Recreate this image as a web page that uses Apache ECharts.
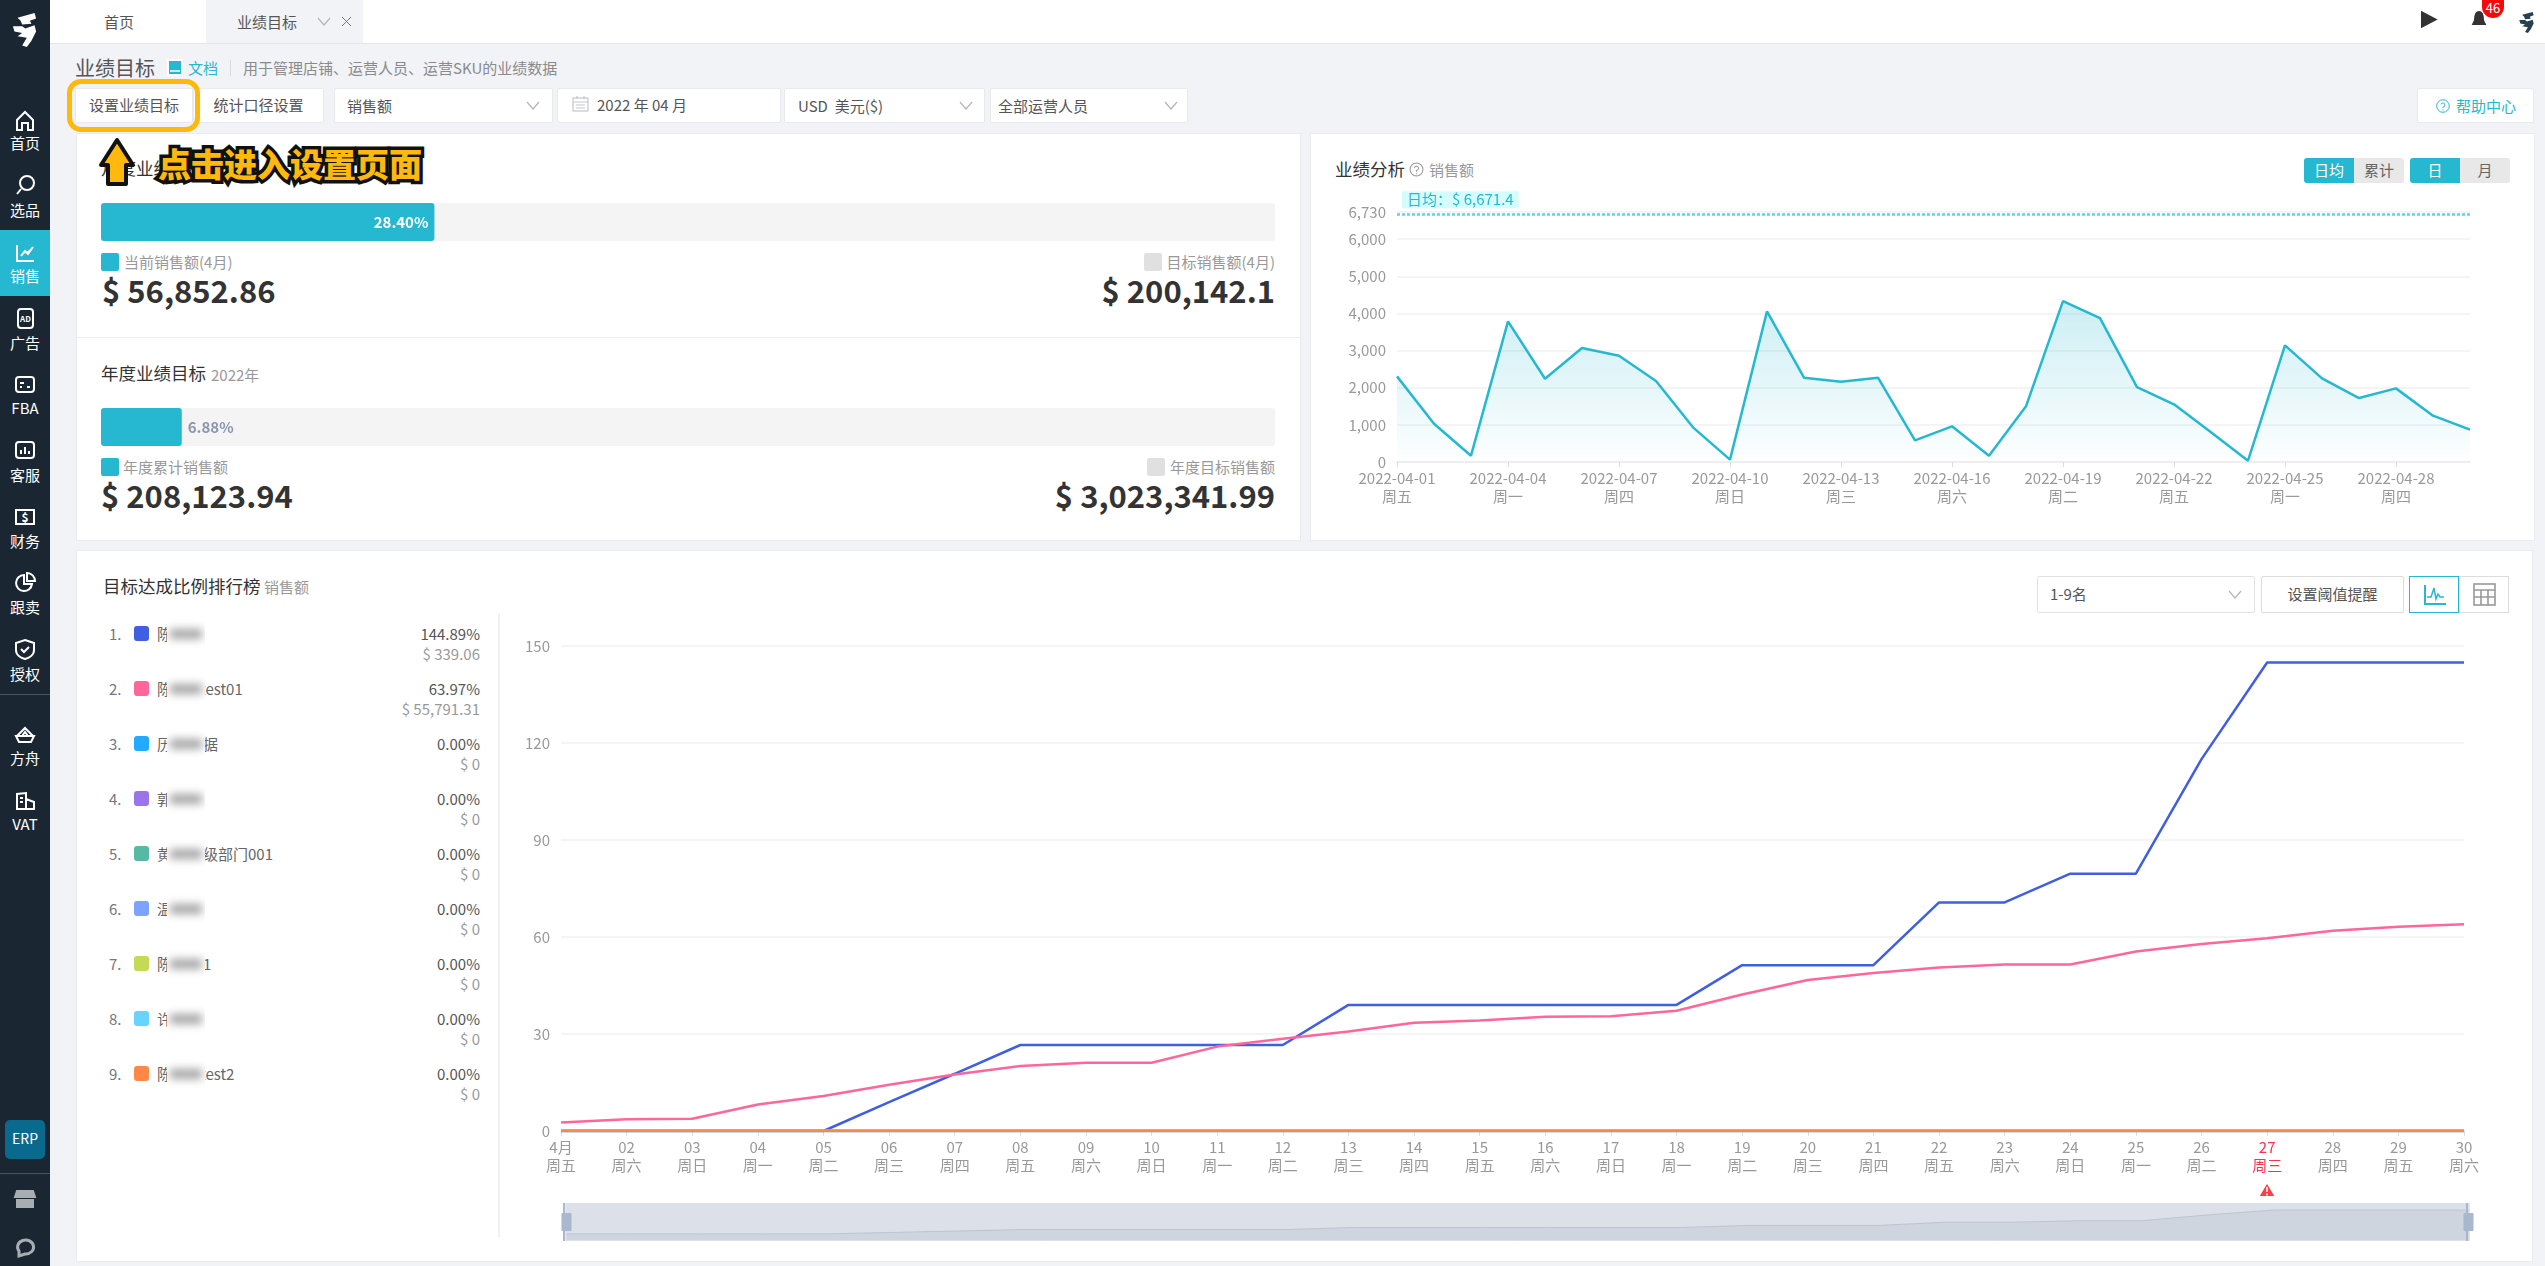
<!DOCTYPE html>
<html>
<head>
<meta charset="utf-8">
<title>业绩目标</title>
<script src="https://cdn.jsdelivr.net/npm/echarts@6/dist/echarts.min.js"></script>
<style>
html, body { margin: 0; padding: 0; width: 2545px; height: 1266px; overflow: hidden; background: #f1f3f7; font-family: "Noto Sans CJK SC", "Noto Sans", sans-serif; }
#app { position: absolute; left: 0; top: 0; width: 2545px; height: 1266px; }
.t { position: absolute; height: 30px; line-height: 30px; white-space: nowrap; }
.b { position: absolute; box-sizing: border-box; }
.c { position: absolute; }
svg { position: absolute; overflow: visible; }
</style>
</head>
<body>
<div id="app"></div>
<script>
// 月度 / 年度目标
var monthPercent = [28.40];
var yearPercent = [6.88];

// 业绩分析 日销售额
var dailyDates = ['2022-04-01','2022-04-02','2022-04-03','2022-04-04','2022-04-05','2022-04-06','2022-04-07','2022-04-08','2022-04-09','2022-04-10','2022-04-11','2022-04-12','2022-04-13','2022-04-14','2022-04-15','2022-04-16','2022-04-17','2022-04-18','2022-04-19','2022-04-20','2022-04-21','2022-04-22','2022-04-23','2022-04-24','2022-04-25','2022-04-26','2022-04-27','2022-04-28','2022-04-29','2022-04-30'];
var weekDays = ['周五','周六','周日','周一','周二','周三','周四','周五','周六','周日','周一','周二','周三','周四','周五','周六','周日','周一','周二','周三','周四','周五','周六','周日','周一','周二','周三','周四','周五','周六'];
var dailySales = [2305,1031,170,3785,2242,3067,2861,2180,933,63,4054,2269,2161,2269,583,960,170,1498,4332,3874,2018,1552,798,36,3139,2251,1722,1982,1247,870];
var dailyAverage = 6671.4;
var dailyMax = 6730;

// 排行榜
var dayLabels = ['4月','02','03','04','05','06','07','08','09','10','11','12','13','14','15','16','17','18','19','20','21','22','23','24','25','26','27','28','29','30'];
var rankFirst = [0,0,0,0,0,8.9,17.7,26.6,26.6,26.6,26.6,26.6,39,39,39,39,39,39,51.3,51.3,51.3,70.7,70.7,79.6,79.6,115,144.89,144.89,144.89,144.89];
var rankSecond = [2.6,3.6,3.8,8.2,10.8,14.3,17.5,20.1,21.1,21.1,26.1,28.5,30.8,33.5,34.2,35.3,35.5,37.2,42.2,46.7,48.9,50.6,51.5,51.5,55.5,57.8,59.6,61.9,63.2,63.97];
var rankZero = [0,0,0,0,0,0,0,0,0,0,0,0,0,0,0,0,0,0,0,0,0,0,0,0,0,0,0,0,0,0];
var rankHead = ['陈','陈','历','郭','黄','温','陈','许','陈'];
var rankTail = ['','test01','据','','级部门001','','1','','test2'];
var rankPercent = ['144.89%','63.97%','0.00%','0.00%','0.00%','0.00%','0.00%','0.00%','0.00%'];
var rankAmount = ['$ 339.06','$ 55,791.31','$ 0','$ 0','$ 0','$ 0','$ 0','$ 0','$ 0'];
var rankColors = ['#3f5fe0','#ff6699','#22aaff','#9b75e8','#55b9a4','#7ba3ff','#c3d957','#66d4ff','#ff8845'];

var TEAL = '#26b8d0';
var html = [];

function t(x, y, s, size, color, extra) {
    return '<div class="t" style="left:' + x + 'px;top:' + (y - 15) + 'px;font-size:' + size + 'px;color:' + color + ';' + (extra || '') + '">' + s + '</div>';
}
function tr(x, y, s, size, color, extra) {
    return '<div class="t" style="right:' + (2545 - x) + 'px;top:' + (y - 15) + 'px;font-size:' + size + 'px;color:' + color + ';' + (extra || '') + '">' + s + '</div>';
}
function tc(x0, x1, y, s, size, color, extra) {
    return '<div class="t" style="left:' + x0 + 'px;width:' + (x1 - x0) + 'px;text-align:center;top:' + (y - 15) + 'px;font-size:' + size + 'px;color:' + color + ';' + (extra || '') + '">' + s + '</div>';
}
function box(x0, y0, x1, y1, style, inner) {
    return '<div class="b" style="left:' + x0 + 'px;top:' + y0 + 'px;width:' + (x1 - x0) + 'px;height:' + (y1 - y0) + 'px;' + style + '">' + (inner || '') + '</div>';
}
function icon(x, y, w, h, vb, body, style) {
    return '<svg style="left:' + x + 'px;top:' + y + 'px" width="' + w + '" height="' + h + '" viewBox="' + vb + '" ' + (style || 'fill="none" stroke="#fff" stroke-width="2"') + '>' + body + '</svg>';
}
function chevron(x, y) {
    return icon(x - 6, y - 4, 12, 8, '0 0 12 8', '<polyline points="0,0 6,7 12,0"/>', 'fill="none" stroke="#b5b5b5" stroke-width="1.2"');
}

// 侧栏
html.push(box(0, 0, 50, 1266, 'background:#1a2733'));
html.push(box(0, 230, 50, 296, 'background:' + TEAL));
var mascot = function (c) {
    return '<path d="M8 6 L30 0 L32 7 L24 10 L26 14 L14 15 L12 10 Z M2 17 L14 17 L18 20 L30 16 L32 24 L26 36 L20 44 L14 42 L20 32 L8 30 L14 26 L4 24 Z" fill="' + c + '" stroke="none"/>';
};
html.push(icon(9, 13, 31, 34, '0 0 34 44', mascot('#fff')));
var sideItems = [
    ['首页', 143, 120, '<path d="M3 11 L11 3 L19 11 V21 H14 V14 H8 V21 H3 Z"/>'],
    ['选品', 210, 185, '<circle cx="13" cy="9" r="7"/><line x1="7" y1="15" x2="3" y2="20"/>'],
    ['销售', 276, 253, '<path d="M3 3 V19 H20"/><path d="M7 14 L11 9 L14 12 L19 5" fill="#fff"/>'],
    ['广告', 343, 318, '<rect x="4" y="2" width="15" height="19" rx="3"/><text x="11.5" y="15" font-size="8" font-weight="700" text-anchor="middle" fill="#fff" stroke="none">AD</text>'],
    ['FBA', 408, 384, '<rect x="2" y="4" width="18" height="15" rx="3"/><path d="M6 10 H10 M6 14 H8 M13 14 H16"/>'],
    ['客服', 475, 450, '<rect x="2" y="3" width="18" height="16" rx="3"/><path d="M7 15 V11 M11 15 V8 M15 15 V12"/>'],
    ['财务', 541, 517, '<path d="M2 4 H20 V18 H2 Z"/><text x="11" y="15.5" font-size="12" font-weight="700" text-anchor="middle" fill="#fff" stroke="none">$</text>'],
    ['跟卖', 607, 582, '<path d="M10 4 A8 8 0 1 0 18 13 H10 Z"/><path d="M13 2 A8 8 0 0 1 21 10 H13 Z"/>'],
    ['授权', 674, 649, '<path d="M11 2 L20 5 V12 C20 17 15 20 11 21 C7 20 2 17 2 12 V5 Z"/><polyline points="7,11 10,14 15,9"/>'],
    ['方舟', 758, 735, '<path d="M3 12 L11 4 L19 12 M2 12 H20 L17 18 H5 Z M8 12 L11 8 L14 12"/>'],
    ['VAT', 824, 801, '<path d="M3 19 V4 L12 3 V19 Z M12 9 L20 12 V19 H2 M6 8 H9 M6 12 H9"/>']
];
for (var s = 0; s < sideItems.length; s++) {
    var side = sideItems[s];
    html.push(tc(0, 50, side[1], side[0], 15, '#fff'));
    html.push(icon(14, side[2] - 11, 22, 23, '0 0 22 23', side[3]));
}
html.push(box(0, 694, 50, 695, 'background:#46525c'));
html.push(box(5, 1120, 45, 1159, 'background:#0a6a8e;border-radius:5px'));
html.push(tc(5, 45, 1138, 'ERP', 14, '#fff'));
html.push(box(0, 1173, 50, 1174, 'background:#46525c'));
html.push(icon(14, 1189, 22, 20, '0 0 22 20', '<path d="M3 2 H19 L21 8 H1 Z M3 11 H19 V18 H3 Z" fill="#a8adb2" stroke="#a8adb2"/>'));
html.push(icon(14, 1237, 22, 20, '0 0 22 20', '<path d="M5 14 A8 7 0 1 1 11 17 L5 19 Z" stroke="#a8adb2" stroke-width="3"/>'));

// 顶部标签
html.push(box(50, 0, 2545, 44, 'background:#fff;border-bottom:1px solid #e4e6ea'));
html.push(box(206, 0, 363, 43, 'background:#f1f3f7'));
html.push(t(104, 22, '首页', 15, '#555'));
html.push(t(237, 22, '业绩目标', 15, '#555'));
html.push(chevron(324, 22));
html.push(icon(342, 17, 9, 9, '0 0 9 9', '<path d="M0 0 L9 9 M9 0 L0 9"/>', 'fill="none" stroke="#777" stroke-width="1"'));
html.push(icon(2420, 9, 20, 21, '0 0 20 21', '<path d="M0 0 L20 10.5 L0 21 Z" fill="#333"/>'));
html.push(icon(2469, 10, 20, 21, '0 0 20 21', '<path d="M10 0 C15 0 16 5 16 10 L19 16 H1 L4 10 C4 5 5 0 10 0 Z M7 18 H13 L10 21 Z" fill="#333"/>'));
html.push(box(2482, 0, 2504, 18, 'background:#f30b0b;border-radius:0 0 11px 11px'));
html.push(tc(2482, 2504, 8, '46', 13, '#fff'));
html.push(icon(2518, 12, 17, 21, '0 0 34 44', mascot('#27404f')));

// 标题与工具栏
html.push(t(75, 68, '业绩目标', 20, '#555'));
html.push(icon(168, 60, 14, 15, '0 0 14 15', '<path d="M0 0 H14 V15 H0 Z" fill="#26b8d0"/><path d="M2 11 H12" stroke="#fff" stroke-width="1.5"/>', ''));
html.push(t(188, 68, '文档', 15, TEAL));
html.push(box(230, 60, 231, 76, 'background:#d8dade'));
html.push(t(243, 68, '用于管理店铺、运营人员、运营SKU的业绩数据', 15, '#8a8a8a'));

var ctl = 'background:#fff;border:1px solid #e8e9ec;border-radius:2px';
html.push(box(75, 88, 193, 123, ctl));
html.push(tc(75, 193, 105, '设置业绩目标', 15, '#555'));
html.push(box(193, 88, 324, 123, ctl));
html.push(tc(193, 324, 105, '统计口径设置', 15, '#555'));
html.push(box(334, 88, 553, 123, ctl));
html.push(t(347, 106, '销售额', 15, '#555'));
html.push(chevron(533, 106));
html.push(box(557, 88, 781, 123, ctl));
html.push(icon(572, 96, 17, 16, '0 0 17 16', '<rect x="1" y="2" width="15" height="13"/><path d="M1 6 H16 M5 0 V3 M12 0 V3 M4 9 H13 M4 12 H13"/>', 'fill="none" stroke="#c3c7d0" stroke-width="1.2"'));
html.push(t(597, 105, '2022 年 04 月', 15, '#555'));
html.push(box(784, 88, 985, 123, ctl));
html.push(t(798, 106, 'USD&nbsp; 美元($)', 15, '#555'));
html.push(chevron(966, 106));
html.push(box(990, 88, 1188, 123, ctl));
html.push(t(998, 106, '全部运营人员', 15, '#555'));
html.push(chevron(1171, 106));
html.push(box(2417, 88, 2534, 123, ctl));
html.push(icon(2436, 99, 14, 14, '0 0 14 14', '<circle cx="7" cy="7" r="6.3"/><path d="M5 5.5 A2 2 0 1 1 7 8 V9 M7 10.5 V11.5"/>', 'fill="none" stroke="#26b8d0" stroke-width="1"'));
html.push(t(2456, 106, '帮助中心', 15, TEAL));

// 卡片
var card = 'background:#fff;border:1px solid #e9ebef;';
html.push(box(76, 133, 1301, 541, card));
html.push(box(76, 337, 1301, 338, 'background:#eceef1'));
html.push(box(1310, 133, 2535, 541, card));
html.push(box(76, 550, 2533, 1262, card));

// 月度目标
html.push(t(101, 168, '月度业绩目标', 17.5, '#333'));
html.push('<div class="c" id="barMonth" style="left:101px;top:203px;width:1174px;height:38px"></div>');
html.push(box(101, 253, 119, 271, 'background:' + TEAL + ';border-radius:2px'));
html.push(t(124, 262, '当前销售额(4月)', 15, '#999'));
html.push(t(102, 290, '$ 56,852.86', 31, '#333', 'font-weight:700'));
html.push(box(1144, 253, 1162, 271, 'background:#e0e0e0;border-radius:2px'));
html.push(tr(1275, 262, '目标销售额(4月)', 15, '#999'));
html.push(tr(1275, 290, '$ 200,142.1', 31, '#333', 'font-weight:700'));

// 年度目标
html.push(t(101, 373, '年度业绩目标', 17.5, '#333'));
html.push(t(211, 375, '2022年', 15, '#999'));
html.push('<div class="c" id="barYear" style="left:101px;top:408px;width:1174px;height:38px"></div>');
html.push(box(101, 458, 119, 476, 'background:' + TEAL + ';border-radius:2px'));
html.push(t(123, 467, '年度累计销售额', 15, '#999'));
html.push(t(101, 495, '$ 208,123.94', 31, '#333', 'font-weight:700'));
html.push(box(1147, 458, 1165, 476, 'background:#e0e0e0;border-radius:2px'));
html.push(tr(1275, 467, '年度目标销售额', 15, '#999'));
html.push(tr(1275, 495, '$ 3,023,341.99', 31, '#333', 'font-weight:700'));

// 业绩分析
html.push(t(1335, 169, '业绩分析', 17.5, '#333'));
html.push(icon(1409, 162, 15, 15, '0 0 14 14', '<circle cx="7" cy="7" r="6"/><path d="M5 5.5 A2 2 0 1 1 7 8 V9 M7 10.5 V11.5"/>', 'fill="none" stroke="#999" stroke-width="1"'));
html.push(t(1429, 170, '销售额', 15, '#999'));
html.push(box(2304, 158, 2354, 183, 'background:' + TEAL + ';border-radius:3px 0 0 3px'));
html.push(tc(2304, 2354, 170, '日均', 15, '#fff'));
html.push(box(2354, 158, 2404, 183, 'background:#e8e8e8;border-radius:0 3px 3px 0'));
html.push(tc(2354, 2404, 170, '累计', 15, '#666'));
html.push(box(2410, 158, 2460, 183, 'background:' + TEAL + ';border-radius:3px 0 0 3px'));
html.push(tc(2410, 2460, 170, '日', 15, '#fff'));
html.push(box(2460, 158, 2510, 183, 'background:#e8e8e8;border-radius:0 3px 3px 0'));
html.push(tc(2460, 2510, 170, '月', 15, '#666'));
html.push('<div class="c" id="chartDaily" style="left:1310px;top:133px;width:1225px;height:408px"></div>');

// 排行榜
html.push(t(103, 586, '目标达成比例排行榜', 17.5, '#333'));
html.push(t(264, 587, '销售额', 15, '#999'));
html.push(box(498, 613, 500, 1237, 'background:#f0f1f3'));
for (var i = 0; i < rankHead.length; i++) {
    var y = 633.5 + i * 55;
    html.push(t(109, y, (i + 1) + '.', 15, '#777'));
    html.push(box(134, y - 7.5, 149, y + 7.5, 'background:' + rankColors[i] + ';border-radius:3px'));
    html.push(t(157, y, rankHead[i], 15, '#666'));
    if (rankTail[i]) {
        html.push(t(rankTail[i].charAt(0) == 't' ? 200 : 203, y, rankTail[i], 15, '#666'));
    }
    html.push(box(167, y - 17, 205, y + 17, 'background:#fff;overflow:hidden', '<div style="position:absolute;left:3px;right:3px;top:12px;bottom:12px;background:#a5a5a5;filter:blur(4px)"></div>'));
    html.push(tr(480, y, rankPercent[i], 15, '#555'));
    html.push(tr(480, y + 20, rankAmount[i], 15, '#999'));
}
var ctlLine = 'background:#fff;border:1px solid #e2e2e2;border-radius:2px';
html.push(box(2037, 576, 2255, 613, ctlLine));
html.push(t(2050, 594, '1-9名', 15, '#555'));
html.push(chevron(2235, 595));
html.push(box(2261, 576, 2404, 613, 'background:#fff;border:1px solid #dcdcdc;border-radius:2px'));
html.push(tc(2261, 2404, 594, '设置阈值提醒', 15, '#555'));
html.push(box(2409, 576, 2459, 613, 'background:#fff;border:1px solid ' + TEAL));
html.push(icon(2424, 585, 22, 20, '0 0 22 20', '<path d="M1 0 V19 H22" stroke-width="2"/><path d="M3 12 H7 L10 3 L12 14 L14 9 L16 12 H20" stroke-width="1.5"/>', 'fill="none" stroke="#26b8d0"'));
html.push(box(2459, 576, 2509, 613, 'background:#fff;border:1px solid #dcdcdc'));
html.push(icon(2474, 584, 21, 21, '0 0 21 21', '<rect x="0" y="0" width="21" height="21"/><path d="M0 6 H21 M0 13 H21 M7 6 V21 M14 6 V21"/>', 'fill="none" stroke="#999" stroke-width="1.6"'));
html.push('<div class="c" id="chartRank" style="left:500px;top:620px;width:2033px;height:640px"></div>');
html.push(icon(2258, 1182, 18, 15, '0 0 18 15', '<path d="M9 0 L18 15 H0 Z" fill="#fb3f4a"/><path d="M9 5 V10 M9 11.5 V13.5" stroke="#fff" stroke-width="1.5"/>', ''));
// 缩放条两端竖线
html.push(box(563, 1203, 565, 1241, 'background:#a9b8cf'));
html.push(box(2466, 1203, 2468, 1241, 'background:#a9b8cf'));

// 提示遮罩
html.push(box(67, 79, 200, 132, 'border:5px solid #ffb80d;border-radius:14px;'));
html.push(icon(99, 138, 36, 49, '0 0 36 49', '<path d="M18 2 L34 27 H27 V46 H9 V27 H2 Z" fill="#ffb80d" stroke="#111" stroke-width="4" stroke-linejoin="round"/>', ''));
html.push(t(158, 163, '点击进入设置页面', 33, '#ffb80d', 'font-weight:900;-webkit-text-stroke:7px #111;paint-order:stroke fill'));

document.getElementById('app').innerHTML = html.join('');

function progressOption(values, label) {
    return {
        animation: false,
        grid: { left: 0, right: 0, top: 0, bottom: 0 },
        xAxis: { type: 'value', min: 0, max: 100, show: false },
        yAxis: { type: 'category', data: ['目标'], show: false },
        series: [{
            type: 'bar',
            data: values,
            barWidth: '100%',
            showBackground: true,
            backgroundStyle: { color: '#f4f4f4', borderRadius: 3 },
            itemStyle: { color: TEAL, borderRadius: 3 },
            label: label
        }]
    };
}
echarts.init(document.getElementById('barMonth')).setOption(progressOption(monthPercent, {
    show: true, position: 'insideRight', distance: 6, color: '#fff', fontSize: 15, fontWeight: 'bold',
    fontFamily: 'Noto Sans CJK SC', formatter: function (p) { return p.value.toFixed(2) + '%'; }
}));
echarts.init(document.getElementById('barYear')).setOption(progressOption(yearPercent, {
    show: true, position: 'right', distance: 6, color: '#8a96ad', fontSize: 15, fontWeight: 'bold',
    fontFamily: 'Noto Sans CJK SC', formatter: function (p) { return p.value.toFixed(2) + '%'; }
}));

var dailyCategories = dailyDates.map(function (d, i) { return d + '\n' + weekDays[i]; });
echarts.init(document.getElementById('chartDaily')).setOption({
    animation: false,
    textStyle: { fontFamily: 'Noto Sans CJK SC' },
    grid: { left: 87, top: 79, width: 1073, height: 250 },
    xAxis: {
        type: 'category',
        data: dailyCategories,
        boundaryGap: false,
        axisLine: { lineStyle: { color: '#eeeeee', width: 2 } },
        axisTick: { show: true, interval: 2, length: 5, lineStyle: { color: '#dddddd' } },
        axisLabel: { interval: 2, margin: 7, color: '#999', fontSize: 15, lineHeight: 18 }
    },
    yAxis: {
        type: 'value',
        min: 0,
        max: dailyMax,
        interval: 1000,
        axisLine: { show: false },
        axisTick: { show: false },
        axisLabel: { margin: 11, color: '#999', fontSize: 15 },
        splitLine: { lineStyle: { color: '#f4f4f4', width: 2 } }
    },
    series: [{
        type: 'line',
        data: dailySales,
        showSymbol: false,
        lineStyle: { color: TEAL, width: 2.5 },
        itemStyle: { color: TEAL },
        areaStyle: {
            color: new echarts.graphic.LinearGradient(0, 0, 0, 1, [
                { offset: 0, color: 'rgba(38,184,208,0.34)' },
                { offset: 1, color: 'rgba(38,184,208,0.01)' }
            ])
        },
        markLine: {
            silent: true,
            symbol: 'none',
            lineStyle: { color: '#5ed4e8', type: [3, 2], width: 2.5 },
            label: {
                position: 'insideStartTop',
                distance: [5, 6],
                color: TEAL,
                fontSize: 15,
                backgroundColor: '#d5fdfe',
                padding: [1, 5],
                formatter: '日均：$ 6,671.4'
            },
            data: [{ yAxis: dailyAverage }]
        }
    }]
});

var rankCategories = dayLabels.map(function (d, i) { return d + '\n' + weekDays[i]; });
function rankLine(values, color) {
    return { type: 'line', data: values, showSymbol: false, lineStyle: { color: color, width: 2.5 }, itemStyle: { color: color } };
}
var rankSeries = [rankLine(rankFirst, rankColors[0]), rankLine(rankSecond, rankColors[1])];
for (var k = 2; k < rankColors.length; k++) {
    rankSeries.push(rankLine(rankZero, rankColors[k]));
}
echarts.init(document.getElementById('chartRank')).setOption({
    animation: false,
    textStyle: { fontFamily: 'Noto Sans CJK SC' },
    grid: { left: 61, top: 26, width: 1903, height: 485 },
    xAxis: {
        type: 'category',
        data: rankCategories,
        boundaryGap: false,
        axisLine: { lineStyle: { color: '#eeeeee', width: 2 } },
        axisTick: { show: true, length: 5, lineStyle: { color: '#dddddd' } },
        axisLabel: {
            interval: 0, margin: 7, fontSize: 15, lineHeight: 18,
            color: function (value, index) { return index == 26 ? '#f5334f' : '#999'; }
        }
    },
    yAxis: {
        type: 'value',
        min: 0,
        max: 150,
        interval: 30,
        axisLine: { show: false },
        axisTick: { show: false },
        axisLabel: { margin: 11, color: '#999', fontSize: 15 },
        splitLine: { lineStyle: { color: '#f4f4f4', width: 2 } }
    },
    dataZoom: [{
        type: 'slider',
        left: 63,
        top: 583,
        width: 1904,
        height: 38,
        start: 0,
        end: 100,
        showDetail: false,
        brushSelect: false,
        backgroundColor: '#dbe0e9',
        borderColor: '#dbe0e9',
        fillerColor: 'rgba(170,180,200,0.0)',
        moveHandleSize: 0,
        handleIcon: 'path://M0,0H9V17H0Z',
        handleSize: '45%',
        handleStyle: { color: '#a9b8cf', borderColor: '#a9b8cf' },
        dataBackground: {
            lineStyle: { color: '#bcc4d2', width: 1 },
            areaStyle: { color: '#cfd5df', opacity: 1 }
        },
        selectedDataBackground: {
            lineStyle: { color: '#bcc4d2', width: 1 },
            areaStyle: { color: '#cfd5df', opacity: 1 }
        }
    }],
    series: rankSeries
});
</script>
</body>
</html>
